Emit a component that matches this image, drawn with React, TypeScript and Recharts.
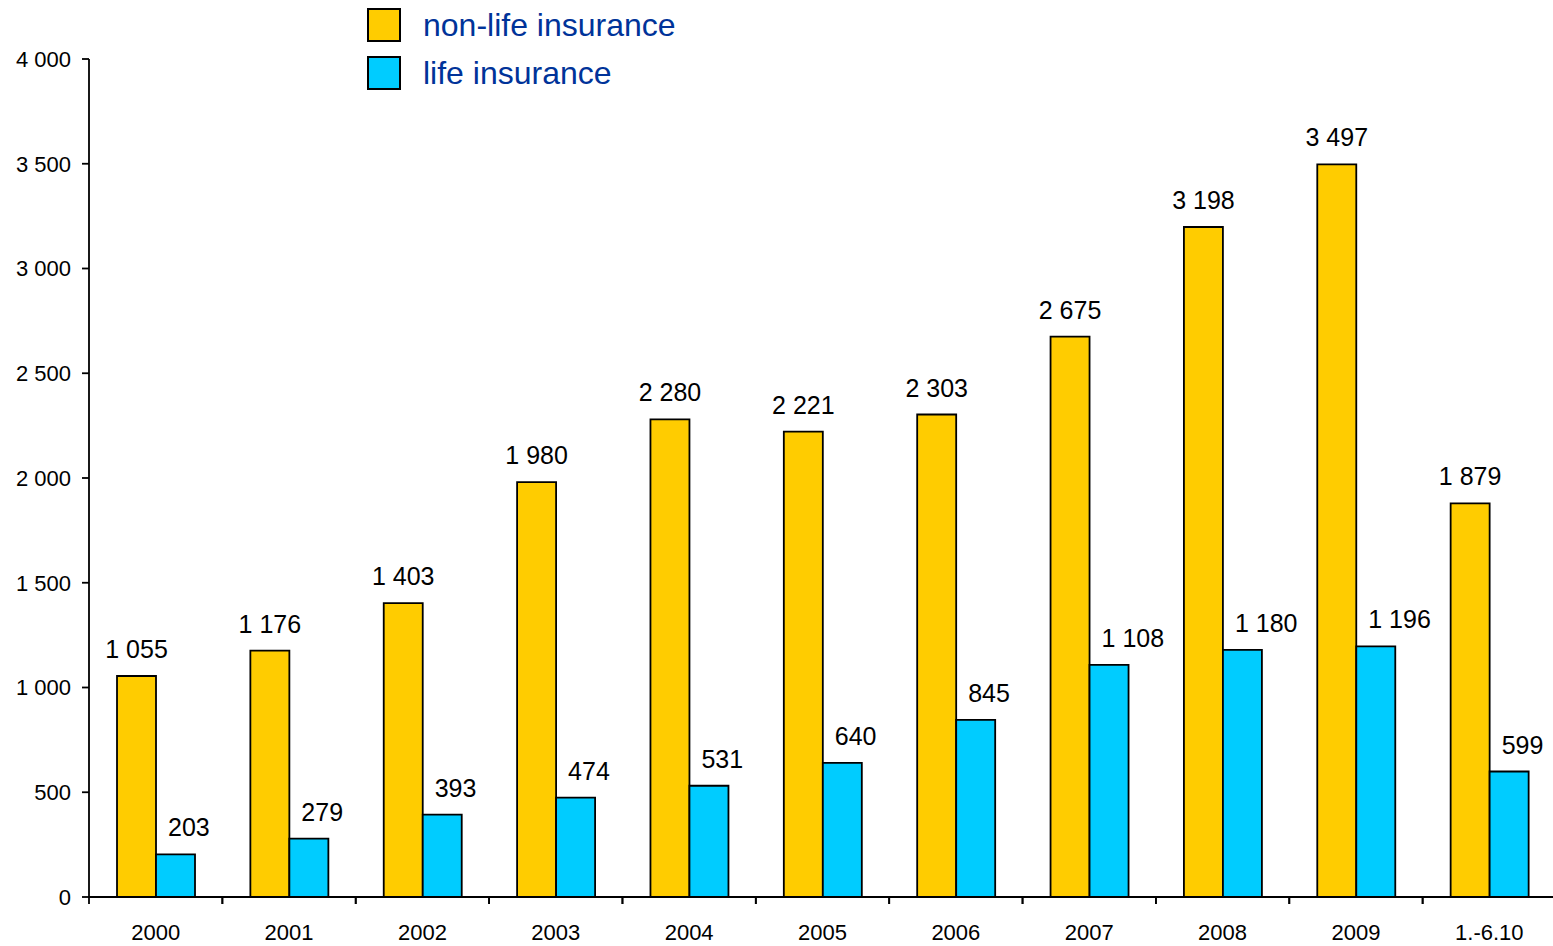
import React from "react";
import { BarChart, Bar, XAxis, YAxis, Legend, LabelList } from "recharts";

const categories = ["2000", "2001", "2002", "2003", "2004", "2005", "2006", "2007", "2008", "2009", "1.-6.10"];
const nonLife = [1055, 1176, 1403, 1980, 2280, 2221, 2303, 2675, 3198, 3497, 1879];
const life = [203, 279, 393, 474, 531, 640, 845, 1108, 1180, 1196, 599];
const yTicks = [0, 500, 1000, 1500, 2000, 2500, 3000, 3500, 4000];

const data = categories.map((c, i) => ({ name: c, nonLife: nonLife[i], life: life[i] }));

const FONT = '"Liberation Sans", Arial, sans-serif';
const fmt = (v: number) => {
  const s = String(Math.round(v));
  return s.replace(/\B(?=(\d{3})+(?!\d))/g, " ");
};

const NonLifeLabel = (props: any) => {
  const { x, y, width, value } = props;
  return (
    <text x={x + width / 2} y={y - 18} textAnchor="middle" fontSize={25} fontFamily={FONT} fill="#000">
      {fmt(value)}
    </text>
  );
};

const LifeLabel = (props: any) => {
  const { x, y, value } = props;
  return (
    <text x={x + 12} y={y - 18} textAnchor="start" fontSize={25} fontFamily={FONT} fill="#000">
      {fmt(value)}
    </text>
  );
};

const XTick = (props: any) => {
  const { x, y, payload } = props;
  const off = payload && payload.offset ? payload.offset : 0;
  return (
    <g>
      <line x1={x - off} y1={y} x2={x - off} y2={y + 7} stroke="#000" strokeWidth={1.8} />
      <line x1={x + off} y1={y} x2={x + off} y2={y + 7} stroke="#000" strokeWidth={1.8} />
      <text x={x} y={y + 43} textAnchor="middle" fontSize={22} fontFamily={FONT} fill="#000">
        {payload.value}
      </text>
    </g>
  );
};

const legendItems = [
  { label: "non-life insurance", color: "#FFCC00" },
  { label: "life insurance", color: "#00CCFF" },
];

const LegendContent = () => (
  <div style={{ fontFamily: FONT }}>
    {legendItems.map((it) => (
      <div key={it.label} style={{ display: "flex", alignItems: "center", height: 48 }}>
        <div
          style={{
            width: 30,
            height: 30,
            background: it.color,
            border: "2px solid #000",
            boxSizing: "content-box",
          }}
        />
        <span style={{ marginLeft: 22, fontSize: 32, color: "#003399", lineHeight: "34px" }}>{it.label}</span>
      </div>
    ))}
  </div>
);

export default function App() {
  return (
    <div style={{ position: "absolute", left: 0, top: 0, width: 1553, height: 946, overflow: "hidden", background: "#fff" }}>
      <BarChart
        width={1560}
        height={946}
        data={data}
        margin={{ top: 59, right: 4, bottom: 0, left: 0 }}
        barCategoryGap="21%"
        barGap={0}
      >
        <XAxis
          dataKey="name"
          height={49}
          axisLine={{ stroke: "#000", strokeWidth: 1.8 }}
          tickLine={false}
          tickSize={0}
          tickMargin={0}
          tick={<XTick />}
          interval={0}
        />
        <YAxis
          width={89}
          domain={[0, 4000]}
          ticks={yTicks}
          interval={0}
          tickFormatter={fmt}
          axisLine={{ stroke: "#000", strokeWidth: 1.8 }}
          tickLine={{ stroke: "#000", strokeWidth: 1.8 }}
          tickSize={7}
          tickMargin={11}
          tick={{ fontSize: 22, fontFamily: FONT, fill: "#000" }}
        />
        <Legend
          content={<LegendContent />}
          layout="horizontal"
          verticalAlign="middle"
          align="center"
          wrapperStyle={{ position: "absolute", top: 1, left: 367, width: 420 }}
        />
        <Bar dataKey="nonLife" fill="#FFCC00" stroke="#000" strokeWidth={1.8} isAnimationActive={false}>
          <LabelList dataKey="nonLife" content={<NonLifeLabel />} />
        </Bar>
        <Bar dataKey="life" fill="#00CCFF" stroke="#000" strokeWidth={1.8} isAnimationActive={false}>
          <LabelList dataKey="life" content={<LifeLabel />} />
        </Bar>
      </BarChart>
    </div>
  );
}
